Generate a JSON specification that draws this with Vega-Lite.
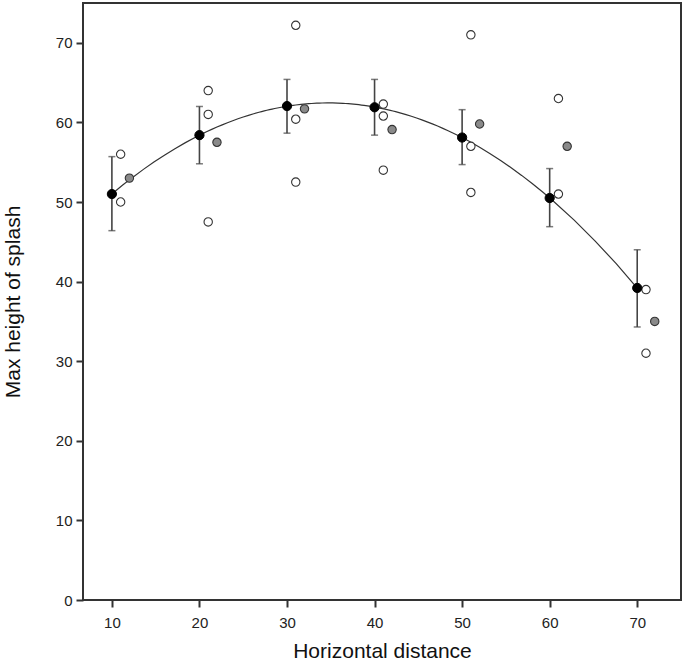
{
  "$schema": "https://vega.github.io/schema/vega-lite/v6.json",
  "width": 598,
  "height": 597,
  "autosize": "none",
  "padding": {"left": 83, "top": 3, "right": 4, "bottom": 69},
  "background": "white",
  "config": {
    "font": "Liberation Sans",
    "view": {"stroke": "#333", "strokeWidth": 2},
    "axis": {
      "domain": false,
      "grid": false,
      "ticks": true,
      "tickColor": "#333",
      "tickWidth": 2,
      "tickSize": 7,
      "labelFont": "Liberation Sans",
      "labelFontSize": 15,
      "labelColor": "#222",
      "titleFont": "Liberation Sans",
      "titleFontSize": 21,
      "titleFontWeight": "normal",
      "titleColor": "#111"
    }
  },
  "datasets": {
    "raw": [
      {"x": 11, "y": 56.0, "kind": "open"},
      {"x": 11, "y": 50.0, "kind": "open"},
      {"x": 12, "y": 53.0, "kind": "gray"},
      {"x": 21, "y": 64.0, "kind": "open"},
      {"x": 21, "y": 61.0, "kind": "open"},
      {"x": 21, "y": 47.5, "kind": "open"},
      {"x": 22, "y": 57.5, "kind": "gray"},
      {"x": 31, "y": 72.2, "kind": "open"},
      {"x": 31, "y": 60.4, "kind": "open"},
      {"x": 31, "y": 52.5, "kind": "open"},
      {"x": 32, "y": 61.7, "kind": "gray"},
      {"x": 41, "y": 62.3, "kind": "open"},
      {"x": 41, "y": 60.8, "kind": "open"},
      {"x": 41, "y": 54.0, "kind": "open"},
      {"x": 42, "y": 59.1, "kind": "gray"},
      {"x": 51, "y": 71.0, "kind": "open"},
      {"x": 51, "y": 57.0, "kind": "open"},
      {"x": 51, "y": 51.2, "kind": "open"},
      {"x": 52, "y": 59.8, "kind": "gray"},
      {"x": 61, "y": 63.0, "kind": "open"},
      {"x": 61, "y": 51.0, "kind": "open"},
      {"x": 62, "y": 57.0, "kind": "gray"},
      {"x": 71, "y": 39.0, "kind": "open"},
      {"x": 71, "y": 31.0, "kind": "open"},
      {"x": 72, "y": 35.0, "kind": "gray"}
    ],
    "means": [
      {"x": 10, "mean": 51.0, "lo": 46.4, "hi": 55.7},
      {"x": 20, "mean": 58.4, "lo": 54.8, "hi": 62.0},
      {"x": 30, "mean": 62.05, "lo": 58.65, "hi": 65.4},
      {"x": 40, "mean": 61.9, "lo": 58.4, "hi": 65.4},
      {"x": 50, "mean": 58.1, "lo": 54.7, "hi": 61.6},
      {"x": 60, "mean": 50.5, "lo": 46.9, "hi": 54.2},
      {"x": 70, "mean": 39.2, "lo": 34.3, "hi": 44.0}
    ]
  },
  "layer": [
    {
      "data": {"name": "means"},
      "transform": [
        {"regression": "mean", "on": "x", "method": "poly", "order": 2, "extent": [10, 70]}
      ],
      "mark": {"type": "line", "color": "#333", "strokeWidth": 1.2},
      "encoding": {
        "x": {"field": "x", "type": "quantitative", "scale": {"domain": [6.7, 75], "nice": false, "zero": false},
              "axis": {"values": [10, 20, 30, 40, 50, 60, 70], "title": "Horizontal distance", "labelPadding": 8, "titlePadding": 10}},
        "y": {"field": "mean", "type": "quantitative", "scale": {"domain": [0, 75], "nice": false, "zero": true},
              "axis": {"values": [0, 10, 20, 30, 40, 50, 60, 70], "title": "Max height of splash", "labelPadding": 4, "titlePadding": 32}}
      }
    },
    {
      "data": {"name": "means"},
      "mark": {"type": "rule", "color": "#444", "strokeWidth": 1.6},
      "encoding": {
        "x": {"field": "x", "type": "quantitative"},
        "y": {"field": "lo", "type": "quantitative"},
        "y2": {"field": "hi"}
      }
    },
    {
      "data": {"name": "means"},
      "mark": {"type": "tick", "orient": "horizontal", "color": "#444", "size": 7, "thickness": 1.5},
      "encoding": {
        "x": {"field": "x", "type": "quantitative"},
        "y": {"field": "lo", "type": "quantitative"}
      }
    },
    {
      "data": {"name": "means"},
      "mark": {"type": "tick", "orient": "horizontal", "color": "#444", "size": 7, "thickness": 1.5},
      "encoding": {
        "x": {"field": "x", "type": "quantitative"},
        "y": {"field": "hi", "type": "quantitative"}
      }
    },
    {
      "data": {"name": "raw"},
      "mark": {"type": "point", "shape": "circle", "filled": true, "size": 70, "stroke": "#333", "strokeWidth": 1.1, "opacity": 1},
      "encoding": {
        "x": {"field": "x", "type": "quantitative"},
        "y": {"field": "y", "type": "quantitative"},
        "fill": {"field": "kind", "type": "nominal", "scale": {"domain": ["open", "gray"], "range": ["#ffffff", "#8a8a8a"]}, "legend": null}
      }
    },
    {
      "data": {"name": "means"},
      "mark": {"type": "point", "shape": "circle", "filled": true, "size": 85, "color": "#000", "stroke": "#000", "strokeWidth": 1, "opacity": 1},
      "encoding": {
        "x": {"field": "x", "type": "quantitative"},
        "y": {"field": "mean", "type": "quantitative"}
      }
    }
  ]
}
